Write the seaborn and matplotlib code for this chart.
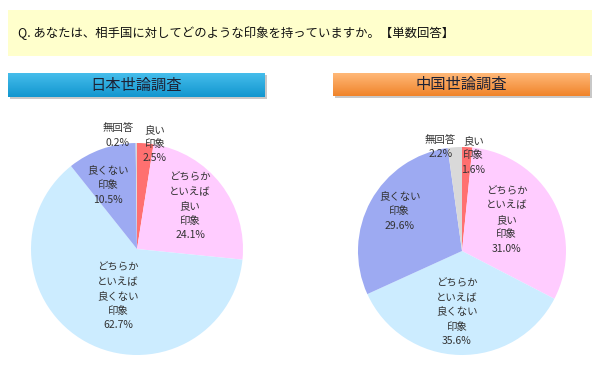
import numpy as np
import matplotlib
matplotlib.use("Agg")
import matplotlib.pyplot as plt
from matplotlib.patches import Rectangle
import seaborn as sns

# ---------------- data ----------------
question = "Q. あなたは、相手国に対してどのような印象を持っていますか。【単数回答】"
categories = ["良い印象", "どちらかといえば良い印象", "どちらかといえば良くない印象",
              "良くない印象", "無回答"]
label_lines = ["良い\n印象", "どちらか\nといえば\n良い\n印象", "どちらか\nといえば\n良くない\n印象",
               "良くない\n印象", "無回答"]
japan_title = "日本世論調査"
japan_values = [2.5, 24.1, 62.7, 10.5, 0.2]
china_title = "中国世論調査"
china_values = [1.6, 31.0, 35.6, 29.6, 2.2]

# ---------------- style ----------------
slice_colors = ["#FF7070", "#FFCCFF", "#CCECFF", "#9DAAF2", "#D9D9D9"]
# label anchor points (in pie-radius units) for each panel
japan_label_pos = [(0.17, 0.99), (0.50, 0.40), (-0.18, -0.45), (-0.27, 0.60), (-0.18, 1.07)]
china_label_pos = [(0.11, 0.92), (0.43, 0.30), (-0.05, -0.59), (-0.60, 0.38), (-0.21, 1.00)]

sns.set_theme(style="white")
plt.rcParams["font.family"] = ["Noto Sans CJK JP", "DejaVu Sans"]

W, H = 600, 368
fig = plt.figure(figsize=(W / 100, H / 100), dpi=100)
fig.patch.set_facecolor("white")


def px_box(x0, y0, x1, y1):
    return [x0 / W, (H - y1) / H, (x1 - x0) / W, (y1 - y0) / H]


# question banner
fig.patches.append(Rectangle((8 / W, (H - 56) / H), 584 / W, 46 / H,
                             transform=fig.transFigure, facecolor="#FFFFCC",
                             edgecolor="none", zorder=-2))
fig.text(18 / W, (H - 33) / H, question, fontsize=8.9, color="#111111",
         va="center", ha="left")


def header(box, title, top_col, bot_col):
    x0, y0, x1, y1 = box
    # shadow
    fig.patches.append(Rectangle(((x0 + 2) / W, (H - y1 - 2) / H), (x1 - x0) / W, (y1 - y0) / H,
                                 transform=fig.transFigure, facecolor="#C8C8C8",
                                 edgecolor="none", zorder=-2))
    hax = fig.add_axes(px_box(*box), zorder=3)
    grad = np.linspace(0, 1, 50)[:, None]
    c0 = np.array(matplotlib.colors.to_rgb(top_col))
    c1 = np.array(matplotlib.colors.to_rgb(bot_col))
    img = c0[None, None, :] * (1 - grad[..., None]) + c1[None, None, :] * grad[..., None]
    hax.imshow(np.repeat(img, 2, axis=1), aspect="auto", extent=[0, 1, 0, 1])
    hax.set_axis_off()
    hax.text(0.5, 0.5, title, ha="center", va="center", fontsize=11,
             color="#1E2235", transform=hax.transAxes)


def pie_panel(box, values, label_pos):
    ax = fig.add_axes(px_box(*box), zorder=2)
    ax.pie(values, colors=slice_colors, startangle=90, counterclock=False,
           radius=1, wedgeprops=dict(linewidth=0))
    ax.set_xlim(-1, 1)
    ax.set_ylim(-1, 1)
    for lab, v, (lx, ly) in zip(label_lines, values, label_pos):
        ax.text(lx, ly, f"{lab}\n{v:.1f}%", ha="center", va="center",
                fontsize=7.5, color="#333333", linespacing=1.55)


header((8, 73, 265, 97), japan_title, "#45BDEB", "#1296CF")
header((333, 73, 590, 96), china_title, "#FFB878", "#F0842A")

pie_panel((31, 143, 243, 355), japan_values, japan_label_pos)
pie_panel((358, 147, 566, 355), china_values, china_label_pos)

fig.savefig("out.png", dpi=100)
